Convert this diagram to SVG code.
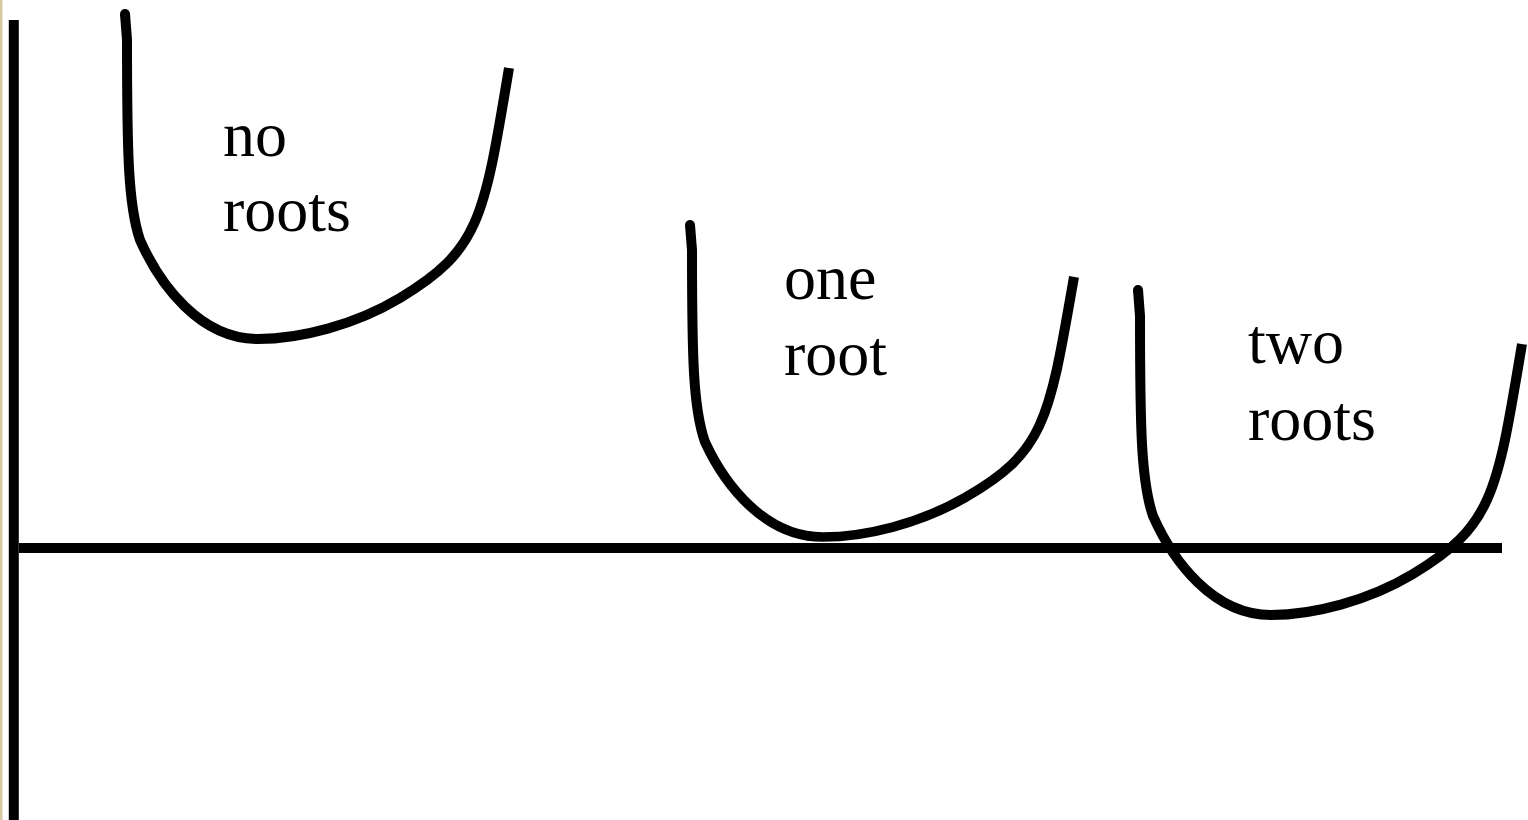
<svg xmlns="http://www.w3.org/2000/svg" width="1528" height="820" viewBox="0 0 1528 820">
  <defs>
    <style>
      .axis { stroke: #000; stroke-width: 10; fill: none; }
      .curve { stroke: #000; stroke-width: 10; fill: none; stroke-linecap: butt; stroke-linejoin: round; }
      .cap { fill: #000; }
      .lbl { font-family: "Liberation Serif", "Times New Roman", serif; font-size: 64px; fill: #000; }
    </style>
    <g id="parabola">
      <path class="curve" d="M125,14 L127,40 C127,150 128,205 140,240 C160,285 200,339 258,339 C300,339 355,325 400,298 C480,250 484,218 509,68"/>
    </g>
  </defs>
  <rect x="0" y="0" width="1528" height="820" fill="#ffffff"/>
  <rect x="0" y="0" width="2.5" height="820" fill="#d9c9a3"/>

  <g id="axes">
    <line class="axis" x1="13.8" y1="20" x2="13.8" y2="820"/>
    <line class="axis" x1="19" y1="548" x2="1502" y2="548"/>
  </g>

  <g id="no-roots">
    <use href="#parabola"/>
    <circle class="cap" cx="125" cy="14" r="5"/>
    <text class="lbl" x="223" y="156">no</text>
    <text class="lbl" x="223" y="231">roots</text>
  </g>

  <g id="one-root">
    <g transform="translate(690,225) scale(1,0.96) translate(-125,-14)">
      <use href="#parabola"/>
    </g>
    <circle class="cap" cx="690" cy="225" r="5"/>
    <text class="lbl" x="784" y="299">one</text>
    <text class="lbl" x="784" y="375">root</text>
  </g>

  <g id="two-roots">
    <g transform="translate(1013,276)">
      <use href="#parabola"/>
    </g>
    <circle class="cap" cx="1138" cy="290" r="5"/>
    <text class="lbl" x="1248" y="363">two</text>
    <text class="lbl" x="1248" y="440">roots</text>
  </g>
</svg>
